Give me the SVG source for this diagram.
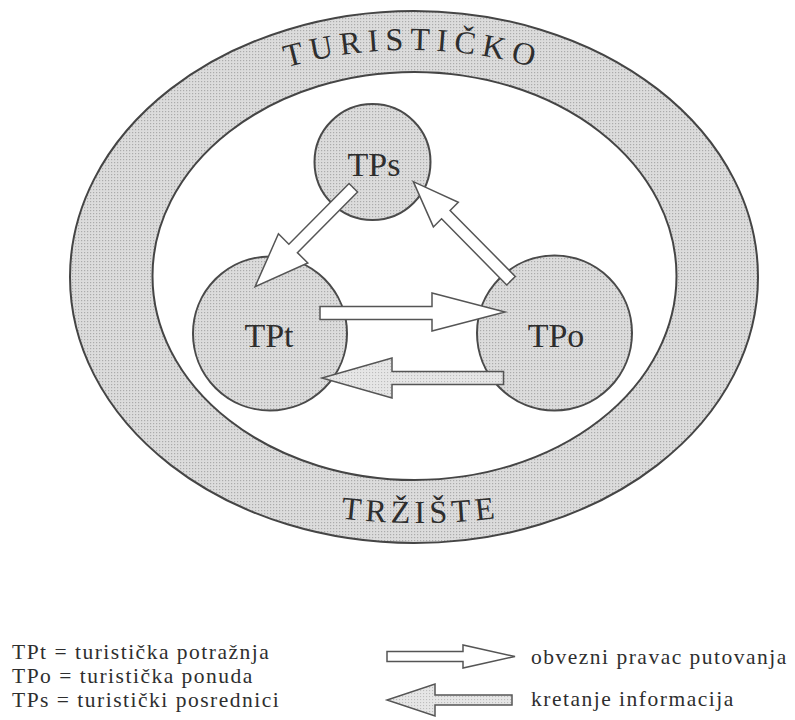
<svg xmlns="http://www.w3.org/2000/svg" width="795" height="720" viewBox="0 0 795 720">
  <defs>
    <pattern id="dots" width="3" height="3" patternUnits="userSpaceOnUse">
      <rect width="3" height="3" fill="#dcdcdc"/>
      <rect x="0" y="0" width="1.2" height="1.2" fill="#ababab"/>
    </pattern>
    <pattern id="dotsLight" width="3" height="3" patternUnits="userSpaceOnUse">
      <rect width="3" height="3" fill="#e6e6e6"/>
      <rect x="0" y="0" width="1.1" height="1.1" fill="#bdbdbd"/>
    </pattern>
    <path id="arcTop" d="M 240 83.5 A 448 448 0 0 1 580 83.5"/>
    <path id="arcBottom" d="M 300 512.2 A 650 650 0 0 0 536 512.2"/>
  </defs>
  <style>
    .ring { fill: url(#dots); stroke: #454545; stroke-width: 2; }
    .hole { fill: #ffffff; stroke: #454545; stroke-width: 2; }
    .node { fill: url(#dots); stroke: #4a4a4a; stroke-width: 2; }
    .lbl { fill: #2e2e2e; }
    .nodeText { font-size: 34px; text-anchor: middle; }
    .arrowW { fill: #ffffff; stroke: #555555; stroke-width: 1.5; stroke-linejoin: miter; }
    .arrowG { fill: url(#dotsLight); stroke: #555555; stroke-width: 1.5; stroke-linejoin: miter; }
    .legend { font-size: 21.5px; letter-spacing: 1.5px; }
  </style>
  <rect width="795" height="720" fill="#ffffff"/>

  <g id="market">
    <ellipse class="ring" cx="414" cy="277" rx="344" ry="266"/>
    <ellipse class="hole" cx="414.5" cy="276" rx="262" ry="204"/>
    <text class="lbl" font-family="'Liberation Serif', 'DejaVu Serif', serif" font-size="32" letter-spacing="6.5"><textPath href="#arcTop" startOffset="177" text-anchor="middle">TURISTIČKO</textPath></text>
    <text class="lbl" font-family="'Liberation Serif', 'DejaVu Serif', serif" font-size="32" letter-spacing="4.5"><textPath href="#arcBottom" startOffset="121" text-anchor="middle">TRŽIŠTE</textPath></text>
  </g>

  <g id="node-TPs">
    <circle class="node" cx="372.5" cy="162" r="58"/>
    <text class="lbl nodeText" font-family="'Liberation Serif', 'DejaVu Serif', serif" x="374" y="176">TPs</text>
  </g>
  <g id="node-TPt">
    <circle class="node" cx="270" cy="333.5" r="77"/>
    <text class="lbl nodeText" font-family="'Liberation Serif', 'DejaVu Serif', serif" x="269" y="347">TPt</text>
  </g>
  <g id="node-TPo">
    <circle class="node" cx="554.5" cy="333" r="77.5"/>
    <text class="lbl nodeText" font-family="'Liberation Serif', 'DejaVu Serif', serif" x="556" y="347">TPo</text>
  </g>

  <g id="connectors">
    <!-- TPs -> TPt -->
    <polygon class="arrowW" transform="translate(353.3 187.8) rotate(134.8)" points="0,-6 85.4,-6 85.4,-20.7 139.4,0 85.4,20.7 85.4,6 0,6"/>
    <!-- TPo -> TPs -->
    <polygon class="arrowW" transform="translate(511 280.7) rotate(-134.6)" points="0,-6 92.8,-6 92.8,-17.5 139.1,0 92.8,17.5 92.8,6 0,6"/>
    <!-- TPt -> TPo -->
    <polygon class="arrowW" points="320,306.5 432,306.5 432,293 505,312 432,331 432,319.5 320,319.5"/>
    <!-- TPo -> TPt (information) -->
    <polygon class="arrowG" points="503.5,371.5 392,371.5 392,358 322,378 392,398 392,384.5 503.5,384.5"/>
  </g>

  <g id="legend">
    <text class="lbl legend" font-family="'Liberation Serif', 'DejaVu Serif', serif" x="12" y="659">TPt = turistička potražnja</text>
    <text class="lbl legend" font-family="'Liberation Serif', 'DejaVu Serif', serif" x="12" y="683">TPo = turistička ponuda</text>
    <text class="lbl legend" font-family="'Liberation Serif', 'DejaVu Serif', serif" x="12" y="707">TPs = turistički posrednici</text>
    <polygon class="arrowW" points="387,651.5 463,651.5 463,645 515,656.5 463,668 463,661.5 387,661.5"/>
    <polygon class="arrowG" points="512,695 435,695 435,684 387,700 435,716 435,705 512,705"/>
    <text class="lbl legend" font-family="'Liberation Serif', 'DejaVu Serif', serif" x="531" y="664">obvezni pravac putovanja</text>
    <text class="lbl legend" font-family="'Liberation Serif', 'DejaVu Serif', serif" x="531" y="706">kretanje informacija</text>
  </g>
</svg>
